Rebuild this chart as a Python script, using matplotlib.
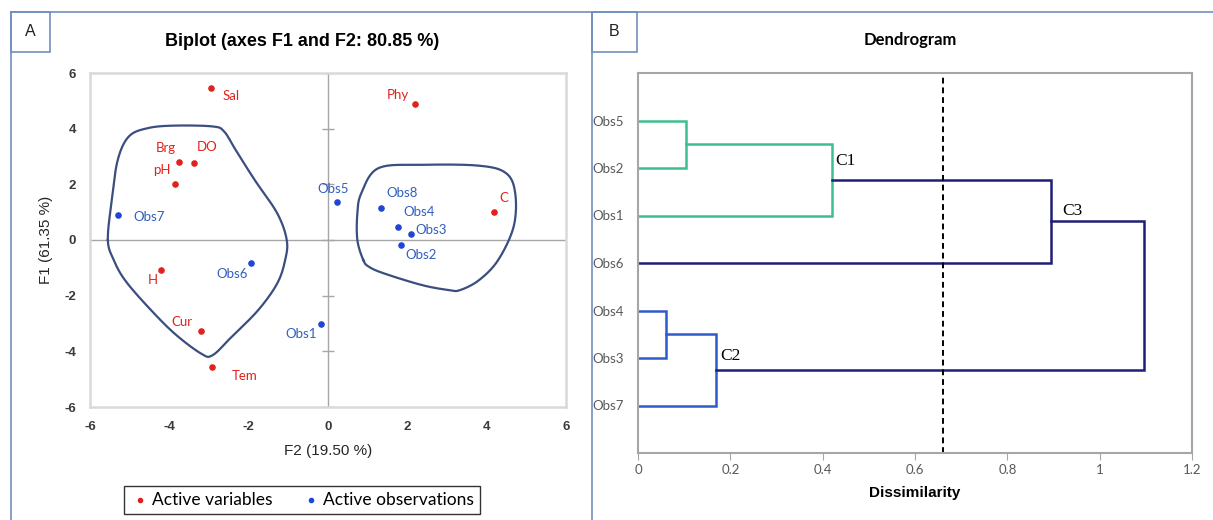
import numpy as np
import matplotlib.pyplot as plt
from matplotlib.lines import Line2D
from matplotlib.patches import Rectangle

plt.rcParams['axes.unicode_minus'] = False

# ---- biplot data (F2 on x, F1 on y) ----
var_names = ['Sal', 'Phy', 'Brg', 'DO', 'pH', 'C', 'H', 'Cur', 'Tem']
var_x = [-2.95, 2.19, -3.75, -3.38, -3.85, 4.19, -4.20, -3.20, -2.93]
var_y = [5.46, 4.87, 2.79, 2.77, 2.00, 1.00, -1.07, -3.26, -4.58]

obs_names = ['Obs5', 'Obs8', 'Obs4', 'Obs3', 'Obs2', 'Obs7', 'Obs6', 'Obs1']
obs_x = [0.23, 1.34, 1.76, 2.09, 1.85, -5.30, -1.95, -0.18]
obs_y = [1.37, 1.15, 0.47, 0.21, -0.17, 0.90, -0.82, -3.02]

# label offsets in pixels (dx, dy), relative to each point
var_off = [(20, -8), (-17, 9), (-13, 14), (13, 16), (-13, 14), (10, 14), (-9, -10), (-19, 9), (33, -9)]
obs_off = [(-4, 13), (21, 15), (21, 15), (20, 4), (20, -10), (31, -2), (-19, -11), (-20, -10)]

# hand-drawn cluster outlines (control points, data units)
blob_left = [(-5.55, 0), (-5.45, 1.44), (-5.30, 2.88), (-5.02, 3.72), (-4.54, 4.02), (-3.87, 4.11),
             (-2.91, 4.08), (-2.62, 3.90), (-2.33, 3.24), (-1.85, 2.16), (-1.28, 0.96), (-1.04, 0),
             (-1.08, -0.72), (-1.28, -1.56), (-1.76, -2.52), (-2.43, -3.48), (-2.91, -4.14),
             (-3.20, -4.08), (-3.87, -3.36), (-4.54, -2.40), (-5.12, -1.44), (-5.40, -0.72)]
blob_right = [(0.89, -0.72), (0.74, 0), (0.74, 0.96), (0.84, 1.68), (1.27, 2.58), (2.37, 2.70),
              (3.81, 2.67), (4.49, 2.40), (4.72, 1.68), (4.68, 0.48), (4.29, -0.72), (3.81, -1.44),
              (3.33, -1.80), (3.05, -1.80), (2.37, -1.62), (1.41, -1.20), (1.03, -0.96)]

# ---- dendrogram data ----
leaves = ['Obs7', 'Obs3', 'Obs4', 'Obs6', 'Obs1', 'Obs2', 'Obs5']  # bottom to top
# (child a, child b, height, colour group)
merges = [
    ('Obs5', 'Obs2', 0.105, 'c1'),
    ('m0', 'Obs1', 0.42, 'c1'),
    ('Obs4', 'Obs3', 0.06, 'c2'),
    ('m2', 'Obs7', 0.17, 'c2'),
    ('m1', 'Obs6', 0.895, 'top'),
    ('m4', 'm3', 1.095, 'top'),
]
cut_level = 0.66
cluster_labels = [('C1', 0.45, 6.15), ('C3', 0.94, 5.1), ('C2', 0.20, 2.05)]

RED = '#E3211C'
BLUE_DOT = '#1F45D6'
BLUE_TXT = '#2F5FBF'
BLOB = '#3B4E80'
group_col = {'c1': '#3DBF8E', 'c2': '#2E5BCB', 'top': '#1E1E78'}
PANEL = '#6F8FBF'


def closed_spline(pts, n=20):
    p = np.array(pts)
    m = len(p)
    out = []
    for i in range(m):
        p0, p1, p2, p3 = p[i - 1], p[i], p[(i + 1) % m], p[(i + 2) % m]
        t = np.linspace(0, 1, n, endpoint=False)[:, None]
        seg = 0.5 * ((2 * p1) + (-p0 + p2) * t + (2 * p0 - 5 * p1 + 4 * p2 - p3) * t ** 2
                     + (-p0 + 3 * p1 - 3 * p2 + p3) * t ** 3)
        out.append(seg)
    out = np.vstack(out)
    return np.vstack([out, out[:1]])


W, H = 1213, 520
fig = plt.figure(figsize=(W / 100, H / 100), dpi=100)


def fx(px):
    return px / W


def fy(py):
    return 1 - py / H


# ---- panel frames ----
for x0, y0, x1, y1 in [(11, 12, 11, 520), (11, 12, 1213, 12), (592, 12, 592, 520)]:
    fig.add_artist(Line2D([fx(x0), fx(x1)], [fy(y0), fy(y1)], color=PANEL, lw=1.2))
for x0, x1, lab in [(11, 50, 'A'), (592, 637, 'B')]:
    fig.add_artist(Rectangle((fx(x0), fy(52)), fx(x1 - x0), 40 / H, fill=False, ec=PANEL, lw=1.2))
    fig.text(fx((x0 + x1) / 2), fy(32), lab, ha='center', va='center', fontsize=11.5,
             family='Liberation Sans', color='#222222')

# ---- panel A: biplot ----
ax = fig.add_axes([fx(90), fy(407), (566 - 90) / W, (407 - 73) / H])
ax.set_xlim(-6, 6)
ax.set_ylim(-6, 6)
for s in ax.spines.values():
    s.set_color('#D9D9D9')
    s.set_linewidth(1.8)
ax.axhline(0, color='#A6A6A6', lw=1, zorder=1)
ax.axvline(0, color='#A6A6A6', lw=1, zorder=1)
ticks = [-6, -4, -2, 0, 2, 4, 6]
ax.plot([0] * len(ticks), ticks, ls='none', marker='_', ms=8, color='#A6A6A6', zorder=1)
ax.set_xticks(ticks)
ax.set_yticks(ticks)
ax.tick_params(length=0, pad=10, labelsize=9.5, labelcolor='#3A3A3A')
for t in ax.get_xticklabels() + ax.get_yticklabels():
    t.set_fontweight('bold')
    t.set_family('Liberation Sans')

for blob in (blob_left, blob_right):
    c = closed_spline(blob)
    ax.plot(c[:, 0], c[:, 1], color=BLOB, lw=1.6, zorder=2)

ax.scatter(var_x, var_y, s=14, color=RED, zorder=3, label='Active variables')
ax.scatter(obs_x, obs_y, s=14, color=BLUE_DOT, zorder=3, label='Active observations')
for n, x, y, (dx, dy) in zip(var_names, var_x, var_y, var_off):
    ax.annotate(n, (x, y), xytext=(dx, dy), textcoords='offset pixels', ha='center', va='center',
                fontsize=9.5, color=RED, family='Lato')
for n, x, y, (dx, dy) in zip(obs_names, obs_x, obs_y, obs_off):
    ax.annotate(n, (x, y), xytext=(dx, dy), textcoords='offset pixels', ha='center', va='center',
                fontsize=9.5, color=BLUE_TXT, family='Lato')

ax.set_xlabel('F2 (19.50 %)', fontsize=11, family='Liberation Sans', color='#262626', labelpad=8)
ax.set_ylabel('F1 (61.35 %)', fontsize=11, family='Liberation Sans', color='#262626', labelpad=8)
fig.text(fx(302), fy(42), 'Biplot (axes F1 and F2: 80.85 %)', ha='center', va='center',
         fontsize=13, fontweight='bold', family='Liberation Sans')

leg = fig.legend(*ax.get_legend_handles_labels(), loc='center', bbox_to_anchor=(fx(302), fy(500)),
                 ncol=2, frameon=True, fancybox=False, edgecolor='black', markerscale=0.8,
                 handletextpad=0.1, columnspacing=1.6, handlelength=1.2, borderpad=0.35,
                 prop={'family': 'Lato', 'size': 12.5})
leg.get_frame().set_linewidth(1.0)

# ---- panel B: dendrogram ----
bx = fig.add_axes([fx(638), fy(453), (1192 - 638) / W, (453 - 73) / H])
bx.set_xlim(0, 1.2)
bx.set_ylim(0, 8)
for s in bx.spines.values():
    s.set_color('#A6A6A6')
    s.set_linewidth(1.5)

pos = {name: (0.0, i + 1) for i, name in enumerate(leaves)}
for k, (a, b, h, g) in enumerate(merges):
    (ha_, ya), (hb, yb) = pos[a], pos[b]
    col = group_col[g]
    bx.plot([ha_, h, h, hb], [ya, ya, yb, yb], color=col, lw=1.8, solid_joinstyle='miter')
    pos['m%d' % k] = (h, (ya + yb) / 2)

bx.axvline(cut_level, color='black', ls=(0, (3, 2)), lw=1.4)
for lab, x, y in cluster_labels:
    bx.text(x, y, lab, fontsize=12.5, family='Liberation Serif', ha='center', va='center')

bx.set_xticks(np.arange(0, 1.21, 0.2))
bx.set_xticklabels(['0', '0.2', '0.4', '0.6', '0.8', '1', '1.2'])
bx.set_yticks(range(1, len(leaves) + 1))
bx.set_yticklabels(leaves)
bx.tick_params(axis='x', length=5, color='#A6A6A6', pad=3, labelsize=9.5, labelcolor='#595959')
bx.tick_params(axis='y', length=0, pad=10, labelsize=9.5, labelcolor='#595959')
for t in bx.get_xticklabels() + bx.get_yticklabels():
    t.set_family('Lato')
bx.set_xlabel('Dissimilarity', fontsize=11, fontweight='bold', family='Liberation Sans', labelpad=7)
fig.text(fx(910), fy(40), 'Dendrogram', ha='center', va='center', fontsize=12,
         fontweight='bold', family='Lato')

fig.savefig('out.png', dpi=100)
